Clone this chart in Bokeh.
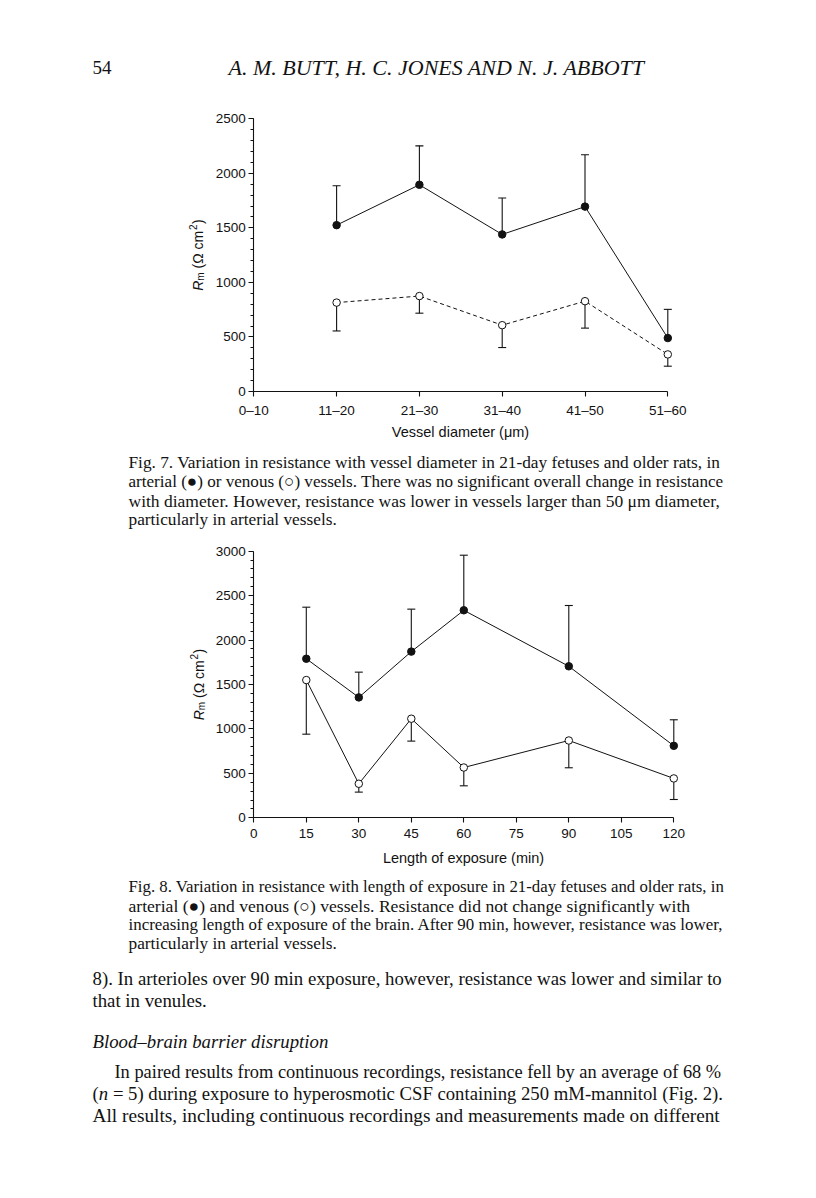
from bokeh.plotting import figure
from bokeh.models import (Range1d, FixedTicker, SingleIntervalTicker, Whisker,
                          TeeHead, ColumnDataSource, Label, LinearAxis)
from bokeh.embed import file_html
from bokeh.resources import INLINE
from math import pi

# ---------------- data: Fig. 7 ----------------
diam_labels = ["0\u201310", "11\u201320", "21\u201330", "31\u201340", "41\u201350", "51\u201360"]
diam_x = [1, 2, 3, 4, 5]
art7 = [1525, 1895, 1440, 1695, 490]
art7_err = [361, 357, 334, 475, 263]
ven7 = [815, 875, 608, 828, 340]
ven7_err = [260, 157, 205, 247, 108]

# ---------------- data: Fig. 8 ----------------
time_x = [15, 30, 45, 60, 90, 120]
time_ticks = [0, 15, 30, 45, 60, 75, 90, 105, 120]
art8 = [1790, 1355, 1870, 2335, 1705, 810]
art8_err = [580, 284, 478, 620, 684, 293]
ven8 = [1550, 383, 1115, 566, 870, 443]
ven8_err = [609, 94, 252, 206, 307, 237]

INK = "#121212"
SANS = "Liberation Sans"
SERIF = "Liberation Serif"
W, H = 800, 1182

# one page-sized canvas; page pixels are the default coordinates (y downwards)
p = figure(width=W, height=H, x_range=Range1d(0, W), y_range=Range1d(H, 0),
           min_border=0, x_axis_type=None, y_axis_type=None,
           output_backend="svg", toolbar_location=None, title=None)
p.outline_line_color = None
p.background_fill_color = "white"
p.border_fill_color = "white"


def add_chart(name, x_left, y_zero, px_per_x, px_per_y, x_max, y_max, xticker,
              overrides, x_title, title_xy, ytitle_xy, dash, x, art, art_err, ven, ven_err):
    xs = -x_left / px_per_x
    p.extra_x_ranges["x" + name] = Range1d(xs, xs + W / px_per_x)
    ys = -(H - y_zero) / px_per_y
    p.extra_y_ranges["y" + name] = Range1d(ys, ys + H / px_per_y)
    rn = dict(x_range_name="x" + name, y_range_name="y" + name)

    xa = LinearAxis(fixed_location=0, bounds=(0, x_max), ticker=xticker, **rn)
    ya = LinearAxis(fixed_location=0, bounds=(0, y_max),
                    ticker=SingleIntervalTicker(interval=500, num_minor_ticks=5), **rn)
    if overrides:
        xa.major_label_overrides = overrides
    for ax in (xa, ya):
        ax.axis_line_color = INK
        ax.axis_line_width = 1.1
        ax.major_tick_line_color = INK
        ax.major_tick_line_width = 1.1
        ax.minor_tick_line_color = INK
        ax.major_tick_out = 5
        ax.major_tick_in = 0
        ax.minor_tick_out = 3
        ax.minor_tick_in = 0
        ax.major_label_text_font = SANS
        ax.major_label_text_font_size = "13.5px"
        ax.major_label_text_color = INK
    xa.minor_tick_line_color = None
    xa.major_label_standoff = 6
    ya.major_label_standoff = 3
    p.add_layout(xa, "below")
    p.add_layout(ya, "left")

    # error bars: arterial upwards, venous downwards
    s_up = ColumnDataSource(dict(x=x, lo=art, hi=[a + e for a, e in zip(art, art_err)]))
    p.add_layout(Whisker(source=s_up, base="x", lower="lo", upper="hi", dimension="height",
                         line_color=INK, line_width=1.1, lower_head=None,
                         upper_head=TeeHead(size=8, line_color=INK, line_width=1.1),
                         level="underlay", **rn))
    s_dn = ColumnDataSource(dict(x=x, lo=[a - e for a, e in zip(ven, ven_err)], hi=ven))
    p.add_layout(Whisker(source=s_dn, base="x", lower="lo", upper="hi", dimension="height",
                         line_color=INK, line_width=1.1, upper_head=None,
                         lower_head=TeeHead(size=8, line_color=INK, line_width=1.1),
                         level="underlay", **rn))
    p.line(x, art, line_color=INK, line_width=1, **rn)
    p.line(x, ven, line_color=INK, line_width=1, line_dash=dash, **rn)
    p.scatter(x, art, marker="circle", size=7.5, fill_color=INK, line_color=INK, **rn)
    p.scatter(x, ven, marker="circle", size=7.5, fill_color="white", line_color=INK,
              line_width=1, **rn)

    # x title
    p.add_layout(Label(x=title_xy[0], y=title_xy[1], text=x_title, text_font=SANS,
                       text_font_size="14.5px", text_color=INK, text_align="center",
                       text_baseline="middle"))
    # y title  R_m (Ω cm²), built from pieces running upwards
    pieces = [("R", "14px", "italic", 0.0, 0.0, 10.1),
              ("m", "10px", "normal", 3.0, 0.0, 8.3),
              ("(\u03a9 cm", "14px", "normal", 0.0, 3.9, 38.0),
              ("2", "10px", "normal", -5.0, 0.5, 5.6),
              (")", "14px", "normal", 0.0, 0.5, 4.7)]
    total = sum(pc[4] + pc[5] for pc in pieces)
    pos = ytitle_xy[1] + total / 2.0
    for txt, size, style, dx, gap, wpx in pieces:
        pos -= gap
        p.add_layout(Label(x=ytitle_xy[0] + dx, y=pos, text=txt, angle=pi / 2,
                           text_font=SANS, text_font_size=size, text_font_style=style,
                           text_color=INK, text_align="left", text_baseline="middle"))
        pos -= wpx


add_chart("7", 253.3, 391.0, 82.8, 272.7 / 2500, len(diam_labels) - 1, 2500,
          FixedTicker(ticks=list(range(len(diam_labels)))),
          {i: lab for i, lab in enumerate(diam_labels)},
          "Vessel diameter (\u03bcm)", (460, 431), (197, 254.5), "4 3",
          diam_x, art7, art7_err, ven7, ven7_err)

add_chart("8", 253.3, 817.3, 3.5, 266.6 / 3000, 120, 3000,
          FixedTicker(ticks=time_ticks), None,
          "Length of exposure (min)", (463, 857), (198, 684), "solid",
          time_x, art8, art8_err, ven8, ven8_err)


def put(x, y, txt, size, style="normal", align="left"):
    p.add_layout(Label(x=x, y=y, text=txt, text_font=SERIF, text_font_size=size,
                       text_font_style=style, text_color=INK, text_align=align,
                       text_baseline="middle"))


# running head
put(92, 67, "54", "19px")
put(228, 67, "A. M. BUTT,  H. C. JONES AND N. J. ABBOTT", "22px", "italic")

cap7_lines = [
    "Fig. 7. Variation in resistance with vessel diameter in 21-day fetuses and older rats, in",
    "arterial (\u25cf) or venous (\u25cb) vessels. There was no significant overall change in resistance",
    "with diameter. However, resistance was lower in vessels larger than 50 \u03bcm diameter,",
    "particularly in arterial vessels.",
]
cap7_sizes = ["17.3px", "17.1px", "17.5px", "17.3px"]
for i, t in enumerate(cap7_lines):
    put(128, 462 + 19 * i, t, cap7_sizes[i])

cap8_lines = [
    "Fig. 8. Variation in resistance with length of exposure in 21-day fetuses and older rats, in",
    "arterial (\u25cf) and venous (\u25cb) vessels. Resistance did not change significantly with",
    "increasing length of exposure of the brain. After 90 min, however, resistance was lower,",
    "particularly in arterial vessels.",
]
cap8_sizes = ["16.8px", "17.6px", "16.9px", "17.3px"]
for i, t in enumerate(cap8_lines):
    put(128, 886 + 19 * i, t, cap8_sizes[i])

put(92, 978, "8). In arterioles over 90 min exposure, however, resistance was lower and similar to", "18.8px")
put(92, 1000, "that in venules.", "18.8px")
put(92, 1041, "Blood\u2013brain barrier disruption", "18.8px", "italic")
put(114, 1071, "In paired results from continuous recordings, resistance fell by an average of 68 %", "18.4px")
put(92, 1093, "(", "18.7px")
put(98.3, 1093, "n", "18.7px", "italic")
put(112.4, 1093, "= 5) during exposure to hyperosmotic CSF containing 250 mM-mannitol (Fig. 2).", "18.7px")
put(92, 1115, "All results, including continuous recordings and measurements made on different", "19.3px")

open("out.html", "w").write(file_html(p, INLINE))
